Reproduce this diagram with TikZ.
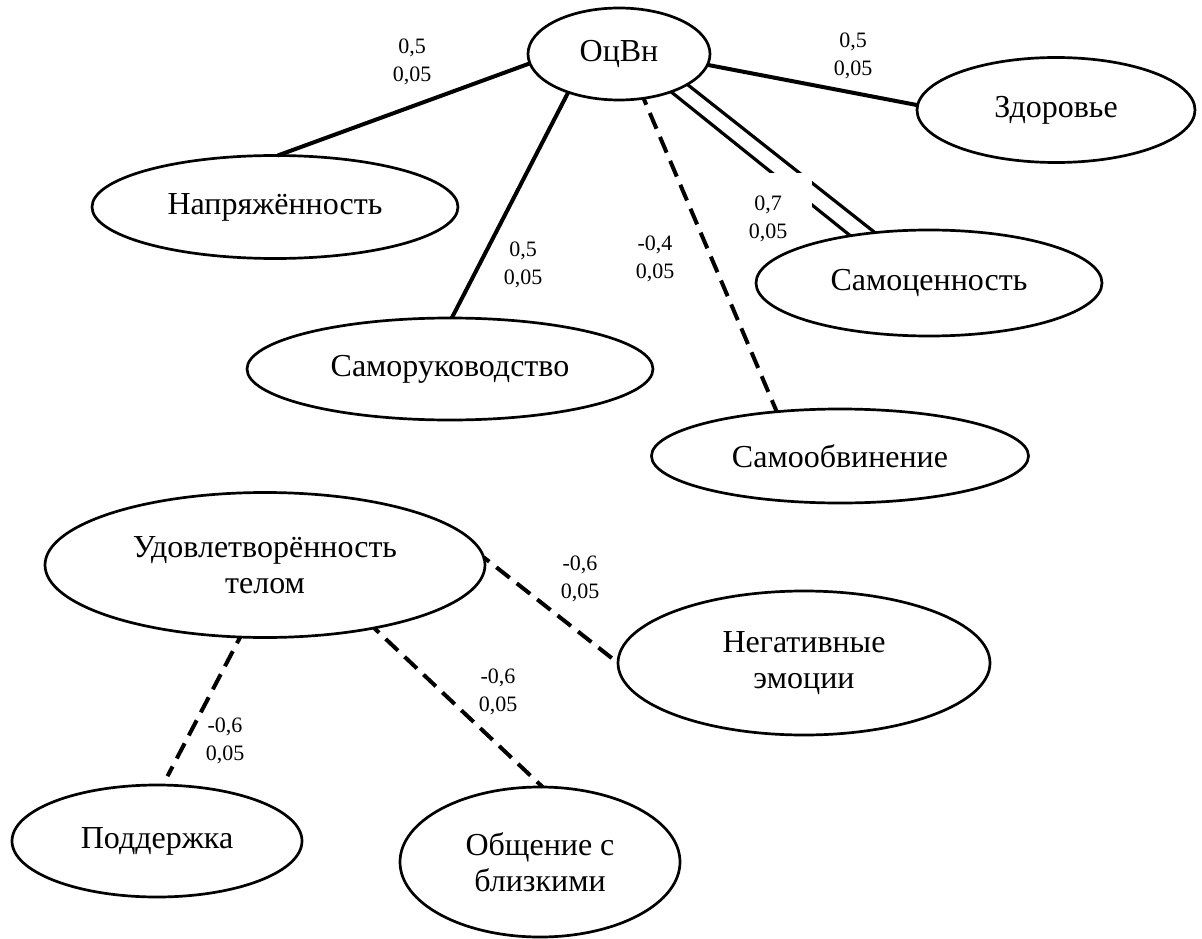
\documentclass[tikz,border=0pt]{standalone}
\usepackage{fontspec}
\setmainfont{Liberation Serif}
\usetikzlibrary{shapes.geometric}
\pgfdeclarelayer{bg}
\pgfsetlayers{bg,main}

\begin{document}
\begin{tikzpicture}[x=1pt,y=-1pt,
  oval/.style={draw, ellipse, line width=2.7pt, inner sep=0pt, outer sep=0pt,
    align=center, font=\fontsize{32}{36}\selectfont},
  coef/.style={align=center, inner sep=0pt, font=\fontsize{22}{27.5}\selectfont},
  poslink/.style={line width=4pt},
  neglink/.style={line width=4pt, dash pattern=on 17pt off 9pt, dash phase=10pt},
  dbllink/.style={line width=3.2pt}]
\useasboundingbox (0,0) rectangle (1202,939);

% factors
\node[oval, minimum width=182pt, minimum height=92pt]  (o) at (619,54)  {ОцВн};
\node[oval, minimum width=366pt, minimum height=103pt] (n) at (275,207) {Напряжённость};
\node[oval, minimum width=278pt, minimum height=105pt] (z) at (1056,110) {Здоровье};
\node[oval, minimum width=346pt, minimum height=106pt] (s) at (929,283) {Самоценность};
\node[oval, minimum width=406pt, minimum height=102pt] (r) at (450,369) {Саморуководство};
\node[oval, minimum width=377pt, minimum height=94pt]  (b) at (840,456) {Самообвинение};
\node[oval, minimum width=440pt, minimum height=145pt] (u) at (265,565) {Удовлетворённость\\телом};
\node[oval, minimum width=372pt, minimum height=144pt] (e) at (804,663) {Негативные\\эмоции};
\node[oval, minimum width=290pt, minimum height=112pt] (p) at (157,841) {Поддержка};
\node[oval, minimum width=280pt, minimum height=150pt] (c) at (540,862) {Общение с\\близкими};

% correlations
\begin{pgfonlayer}{bg}
\draw[poslink] (o.186) -- (n.87);
\draw[poslink] (o.217) -- (r.88);
\draw[neglink] (o.299.5) -- (b.145);
\draw[dbllink] (o.324) -- (s.149);
\draw[dbllink] (o.336) -- (s.137);
\draw[poslink] (o.353) -- (z.178);
\draw[neglink, shorten >=8pt] (u.2) -- (e.west);
\draw[neglink, shorten >=10pt] (u.251) -- (p.84);
\draw[neglink] (u.330.6) -- (c.88);
\node[coef, fill=white, minimum width=88pt, minimum height=92pt] (k5) at (768,219) {0,7\\0,05};
\end{pgfonlayer}

\node[coef] (k1) at (412,62)  {0,5\\0,05};
\node[coef] (k2) at (853,56)  {0,5\\0,05};
\node[coef] (k3) at (523,265) {0,5\\0,05};
\node[coef] (k4) at (655,259) {-0,4\\0,05};
\node[coef] (k6) at (580,579) {-0,6\\0,05};
\node[coef] (k7) at (498,692) {-0,6\\0,05};
\node[coef] (k8) at (225,741) {-0,6\\0,05};
\end{tikzpicture}
\end{document}
